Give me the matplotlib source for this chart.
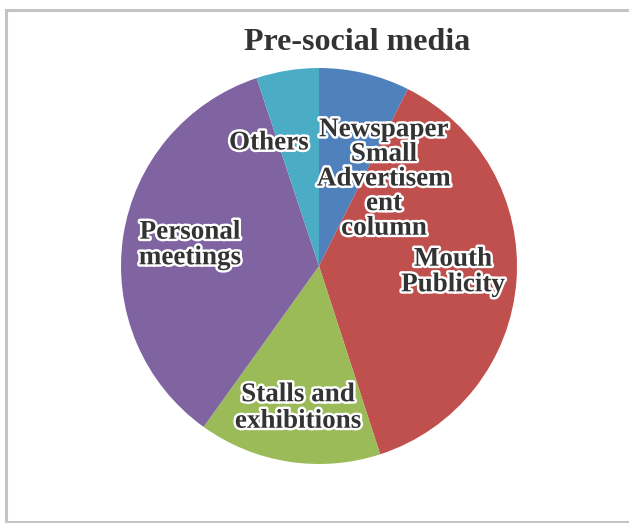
import matplotlib
matplotlib.use("Agg")
import matplotlib.pyplot as plt
import matplotlib.patheffects as pe
from matplotlib.patches import Rectangle

# Share of contacts by channel, before social media (percent)
categories = ["Newspaper\nSmall\nAdvertisem\nent\ncolumn", "Mouth\nPublicity",
              "Stalls and\nexhibitions", "Personal\nmeetings", "Others"]
shares = [7.4, 37.6, 14.9, 35.0, 5.1]
colors = ["#4F81BD", "#C0504D", "#9BBB59", "#8064A2", "#4BACC6"]
title = "Pre-social media"

W, H = 629, 523
fig = plt.figure(figsize=(W / 100, H / 100), dpi=100)
ax = fig.add_axes([0, 0, 1, 1])

# outer chart border
ax.add_patch(Rectangle((6, 1), W + 20, H - 11, fill=False,
                       edgecolor="#c4c4c4", linewidth=2.2))

cx, cy, r = 319, H - 266, 198
wedges, _ = ax.pie(shares, colors=colors, startangle=90, counterclock=False,
                   center=(cx, cy), radius=r, frame=True,
                   wedgeprops=dict(linewidth=0))
ax.set_xlim(0, W)
ax.set_ylim(0, H)
ax.set_aspect("equal")
ax.axis("off")

font = dict(family="Liberation Serif", weight="bold", color="#333333")
stroke = [pe.withStroke(linewidth=3.5, foreground="white")]

ax.text(357, H - 42, title, fontsize=23, ha="center", va="center", **font)

label_pos = [(384, 179), (453, 272), (298, 408), (190, 245), (269, 143)]
spacing = [0.98, 1.03, 1.08, 1.03, 1.0]
for text, (x, y), ls in zip(categories, label_pos, spacing):
    ax.text(x, H - y, text, fontsize=19.5, ha="center", va="center",
            linespacing=ls, path_effects=stroke, **font)

fig.savefig("out.png", dpi=100)
